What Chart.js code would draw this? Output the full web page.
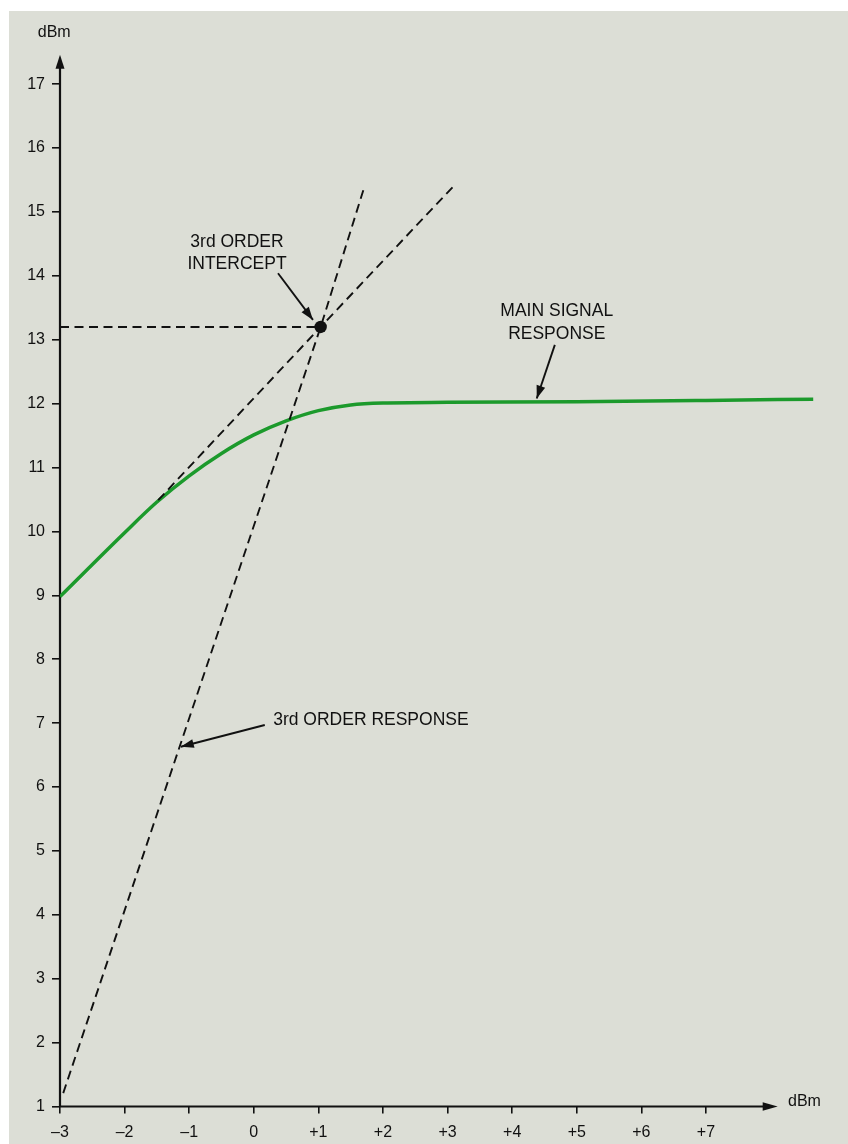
<!DOCTYPE html>
<html>
<head>
<meta charset="utf-8">
<script src="https://cdn.jsdelivr.net/npm/chart.js@4.4.1/dist/chart.umd.min.js"></script>
<style>
  html, body { margin: 0; padding: 0; background: #fff; }
  #paper { position: absolute; left: 9px; top: 11px; right: 0; bottom: 0; background: #dcded6; }
  #wrap { position: absolute; left: 0; top: 0; width: 848px; height: 1144px; }
</style>
</head>
<body>
<div id="paper"></div>
<div id="wrap"><canvas id="c" width="848" height="1144"></canvas></div>
<script>
/* ---- data (dBm in -> dBm out) ---- */
const mainX = [-3, -2, -1.5, -1, -0.5, 0, 0.5, 1, 1.5, 2, 3, 5, 7, 8.66];
const mainY = [8.98, 9.98, 10.46, 10.87, 11.22, 11.51, 11.73, 11.89, 11.98, 12.01, 12.02, 12.03, 12.05, 12.07];

const tangentX = [-1.48, 1.035, 3.08];      // small-signal extrapolation
const tangentY = [10.49, 13.2, 15.39];

const thirdX = [-2.95, 1.035, 1.72];         // 3rd order response
const thirdY = [1.21, 13.2, 15.42];

const interceptX = 1.035;
const interceptY = 13.2;

const xTicks = [-3, -2, -1, 0, 1, 2, 3, 4, 5, 6, 7];
const yTicks = [1, 2, 3, 4, 5, 6, 7, 8, 9, 10, 11, 12, 13, 14, 15, 16, 17];

/* ---- annotation layout (data units) ---- */
const AXIS_END = { x: 8.11, y: 17.46 };
const NOTES = [
  { lines: ["3rd ORDER", "INTERCEPT"], x: -0.26, y: [14.53, 14.18], align: "center",
    arrow: [0.375, 14.04, 0.916, 13.31] },
  { lines: ["MAIN SIGNAL", "RESPONSE"], x: 4.69, y: [13.45, 13.09], align: "center",
    arrow: [4.66, 12.92, 4.38, 12.08] },
  { lines: ["3rd ORDER RESPONSE"], x: 0.30, y: [7.05], align: "left",
    arrow: [0.17, 6.97, -1.13, 6.63] },
];

const FONT = "'Liberation Sans', Arial, Helvetica, sans-serif";
const INK = "#111111";
Chart.defaults.font.family = FONT;

const pts = (xs, ys) => xs.map((x, i) => ({ x, y: ys[i] }));
const fmtX = v => v > 0 ? "+" + v : v < 0 ? "\u2013" + Math.abs(v) : "0";

function arrowHead(ctx, fx, fy, tx, ty, len, half) {
  const a = Math.atan2(ty - fy, tx - fx);
  ctx.beginPath();
  ctx.moveTo(tx, ty);
  ctx.lineTo(tx - len * Math.cos(a) + half * Math.sin(a), ty - len * Math.sin(a) - half * Math.cos(a));
  ctx.lineTo(tx - len * Math.cos(a) - half * Math.sin(a), ty - len * Math.sin(a) + half * Math.cos(a));
  ctx.closePath();
  ctx.fill();
}

/* axes with arrow ends + unit labels */
const axesPlugin = {
  id: "axes",
  beforeDatasetsDraw(chart) {
    const { ctx, scales: { x, y } } = chart;
    const x0 = x.getPixelForValue(-3), y0 = y.getPixelForValue(1);
    const xe = x.getPixelForValue(AXIS_END.x), ye = y.getPixelForValue(AXIS_END.y);
    ctx.save();
    ctx.strokeStyle = INK; ctx.fillStyle = INK; ctx.lineWidth = 2.2;
    ctx.beginPath();
    ctx.moveTo(x0, y0); ctx.lineTo(x0, ye + 10);
    ctx.moveTo(x0, y0); ctx.lineTo(xe - 10, y0);
    ctx.stroke();
    arrowHead(ctx, x0, y0, x0, ye, 14, 4.5);
    arrowHead(ctx, x0, y0, xe, y0, 15, 4.2);
    ctx.font = "16px " + FONT;
    ctx.textBaseline = "middle";
    ctx.textAlign = "center";
    ctx.fillText("dBm", x.getPixelForValue(-3.09), y.getPixelForValue(17.8));
    ctx.textAlign = "left";
    ctx.fillText("dBm", x.getPixelForValue(8.27), y.getPixelForValue(1.07));
    ctx.restore();
  },
  afterDraw(chart) {
    const { ctx, scales: { x, y } } = chart;
    ctx.save();
    ctx.fillStyle = INK; ctx.strokeStyle = INK;
    ctx.font = "17.5px " + FONT;
    ctx.textBaseline = "middle";
    NOTES.forEach(n => {
      ctx.textAlign = n.align;
      n.lines.forEach((t, i) => ctx.fillText(t, x.getPixelForValue(n.x), y.getPixelForValue(n.y[i])));
      const [ax, ay, bx, by] = n.arrow;
      const fx = x.getPixelForValue(ax), fy = y.getPixelForValue(ay);
      const tx = x.getPixelForValue(bx), ty = y.getPixelForValue(by);
      ctx.lineWidth = 1.9;
      ctx.beginPath(); ctx.moveTo(fx, fy); ctx.lineTo(tx, ty); ctx.stroke();
      arrowHead(ctx, fx, fy, tx, ty, 13, 4.5);
    });
    ctx.restore();
  }
};

const dashed = { borderColor: INK, borderWidth: 1.9, borderDash: [9, 5.5], pointRadius: 0, showLine: true, order: 1 };

new Chart(document.getElementById("c"), {
  type: "scatter",
  data: {
    datasets: [
      { label: "Main signal response", data: pts(mainX, mainY), borderColor: "#1c9a2c", borderWidth: 3.5,
        pointRadius: 0, showLine: true, cubicInterpolationMode: "monotone", order: 2 },
      Object.assign({ label: "Fundamental extrapolation", data: pts(tangentX, tangentY) }, dashed),
      Object.assign({ label: "3rd order response", data: pts(thirdX, thirdY) }, dashed),
      Object.assign({ label: "Intercept level", data: [{ x: -3, y: interceptY }, { x: interceptX, y: interceptY }] }, dashed),
      { label: "3rd order intercept", data: [{ x: interceptX, y: interceptY }], pointRadius: 6.2,
        pointBackgroundColor: INK, pointBorderWidth: 0, showLine: false, order: 0 },
    ]
  },
  options: {
    responsive: false, animation: false, devicePixelRatio: 1,
    layout: { padding: { left: 0, top: 45.8, right: 32.2, bottom: 0 } },
    plugins: { legend: { display: false }, tooltip: { enabled: false } },
    scales: {
      x: {
        type: "linear", min: -3, max: 8.7,
        afterBuildTicks: s => { s.ticks = xTicks.map(v => ({ value: v })); },
        afterFit: s => { s.height = 37.5; },
        border: { display: false },
        grid: { drawOnChartArea: false, drawTicks: true, tickLength: 7, color: INK, lineWidth: 1.6 },
        ticks: { padding: 9, color: INK, font: { size: 16 }, autoSkip: false, maxRotation: 0, callback: fmtX }
      },
      y: {
        type: "linear", min: 1, max: 17.6,
        afterBuildTicks: s => { s.ticks = yTicks.map(v => ({ value: v })); },
        afterFit: s => { s.width = 60; },
        border: { display: false },
        grid: { drawOnChartArea: false, drawTicks: true, tickLength: 8, color: INK, lineWidth: 1.6 },
        ticks: { padding: 7, color: INK, font: { size: 16 }, autoSkip: false, callback: v => String(v) }
      }
    }
  },
  plugins: [axesPlugin]
});
</script>
</body>
</html>
